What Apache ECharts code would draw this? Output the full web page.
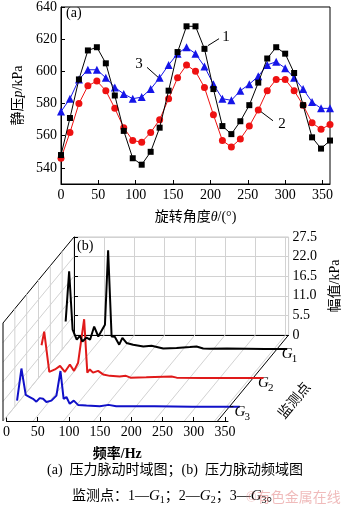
<!DOCTYPE html>
<html><head><meta charset="utf-8">
<script src="https://cdn.jsdelivr.net/npm/echarts@6/dist/echarts.min.js"></script>
<style>html,body{margin:0;padding:0;background:#fff}#c{width:350px;height:509px}</style>
</head><body><div id="c"></div>
<script>
// ---------- (a) time domain ----------
const theta = [0,12,24,36,48,60,72,84,96,108,120,132,144,156,168,180,192,204,216,228,240,252,264,276,288,300,312,324,336,348,360];
const pG1 = [548,571,595,613,615,605,585,563,546,542,550,565,588,612,628,628,614,589,566,561,569,579,593,608,615,611,599,579,559,552,557];
const pG2 = [546,562,580,591,594,588,577,565,557,556,562,570,583,596,604,600,590,573,557,553,558,566,576,588,595,595,588,579,568,564,567];
const pG3 = [575,583,595,601,601,596,590,586,583,584,589,596,604,611,615,611,603,592,583,582,588,592,597,604,606,602,596,589,581,577,577];
const thetaTicks = [0,50,100,150,200,250,300,350];
const pTicks = [540,560,580,600,620,640];
const curveNames = ['1','2','3'];
const leaderLines = [[196.7,616,211.5,620.3],[267.7,574.9,283.7,569.3],[115.1,602.5,129.8,596.4]];
const leaderText = [[220.8,621.6],[295.8,567.3],[104.4,604.4]];

// ---------- (b) frequency domain ----------
const fG1 = [5.5,11,16.5,23,28,32,38.5,44,50.5,57,67.5,72.5,78,83,90,95,101.5,112,128,141,159.5,180.5,201.5,212,222.5,233,260,290,320,355];
const aG1 = [7.8,21.9,5.5,2.7,3.8,2.2,3.3,2.7,6.4,3.6,6.9,27.8,3.6,3.5,1.3,3.2,1.8,1.3,0.8,1.0,0.25,0.4,0.65,0.8,0.25,0.15,0.2,0.15,0.1,0.1];
const fG2 = [4.8,9,17,26,34,41.5,49.5,56,62.5,72,77,81,86,94,102,112.5,128,138,145,170,210,218,260,300,355];
const aG2 = [9.2,13.0,1.7,2.4,3.4,1.7,3.8,2.0,4.3,16.5,1.5,2.4,1.5,2.0,1.0,0.6,0.4,0.6,0.1,0.2,0.4,0.1,0,0,0];
const fG3 = [3.5,10.4,17.2,23.5,28.7,34,39.3,44.5,49.8,57.7,65.6,72,77,81.4,86.6,93,99.7,113,134,148,160,220,280,355];
const aG3 = [1.7,10.7,3.3,2.7,2.2,1.4,2.4,2.2,1.3,1.7,3.1,10.0,2.2,2.7,0.8,1.7,0.5,0.3,0.1,0.5,0.1,0.1,0,0];
const freqTicks = [0,50,100,150,200,250,300,350];
const ampTicks = [0,5.5,11,16.5,22,27.5];
const depthNames = ['1','2','3'];

// ---------- layout ----------
const SERIF = "'Liberation Serif','Noto Sans CJK SC',serif";
const A = {left:61, top:5, width:269, height:179};
const B = {left:74, top:237, width:225, height:98};
const DV = [-71, 86];           // depth vector (back -> front) in px
const FMAX = 355, AMAX = 27.5;
const depthPos = [1/6, 1/2, 5/6];
const colA = ['#000000','#ee1111','#1515e8'];
const colB = ['#000000','#e01a1a','#1010c8'];

const chart = echarts.init(document.getElementById('c'), null, {renderer:'canvas'});

const grids = [
  {left:A.left, top:A.top, width:A.width, height:A.height, show:true, borderColor:'#000', borderWidth:1},
  {left:B.left, top:B.top, width:B.width, height:B.height, show:true, borderColor:'#c8c8c8', borderWidth:1},
];
depthPos.forEach(d => grids.push({left:B.left + d*DV[0], top:B.top + d*DV[1], width:B.width, height:B.height}));
grids.push({left:B.left + DV[0], top:B.top + DV[1], width:B.width, height:B.height});

const hiddenX = gi => ({type:'value', gridIndex:gi, min:0, max:FMAX, show:false});
const hiddenY = gi => ({type:'value', gridIndex:gi, min:0, max:AMAX, show:false});

const xAxes = [
  {type:'value', gridIndex:0, min:0, max:360,
   axisLine:{lineStyle:{color:'#000'}}, axisTick:{inside:true, length:4, customValues:thetaTicks, lineStyle:{color:'#000'}},
   axisLabel:{customValues:thetaTicks, color:'#000', fontFamily:SERIF, fontSize:14, margin:4},
   splitLine:{show:false},
   name:'旋转角度{i|θ}/(°)', nameLocation:'middle', nameGap:26,
   nameTextStyle:{color:'#000', fontFamily:SERIF, fontSize:14, rich:{i:{fontStyle:'italic', fontFamily:SERIF, fontSize:14, color:'#000'}}}},
  {type:'value', gridIndex:1, min:0, max:FMAX, interval:50, position:'top',
   axisLine:{lineStyle:{color:'#000'}}, axisTick:{show:false}, axisLabel:{show:false},
   splitLine:{show:true, lineStyle:{color:'#d2d2d2', width:1}}},
];
const yAxes = [
  {type:'value', gridIndex:0, min:530, max:640,
   axisLine:{lineStyle:{color:'#000'}}, axisTick:{inside:true, length:4, customValues:pTicks, lineStyle:{color:'#000'}},
   axisLabel:{customValues:pTicks, color:'#000', fontFamily:SERIF, fontSize:14, margin:4},
   splitLine:{show:false},
   name:'静压{i|p}/kPa', nameLocation:'middle', nameGap:35, nameRotate:90,
   nameTextStyle:{color:'#000', fontFamily:SERIF, fontSize:14, rich:{i:{fontStyle:'italic', fontFamily:SERIF, fontSize:14, color:'#000'}}}},
  {type:'value', gridIndex:1, min:0, max:AMAX, interval:5.5, position:'right',
   axisLine:{show:true, lineStyle:{color:'#000'}}, axisTick:{show:true, length:4, lineStyle:{color:'#000'}},
   axisLabel:{color:'#000', fontFamily:SERIF, fontSize:14, margin:4, formatter:v => v===0 ? '0' : v.toFixed(1)},
   splitLine:{show:true, lineStyle:{color:'#d2d2d2', width:1}},
   name:'幅值/kPa', nameLocation:'middle', nameGap:37, nameRotate:90,
   nameTextStyle:{color:'#000', fontFamily:SERIF, fontSize:14}},
];
depthPos.forEach((d,i) => { xAxes.push(hiddenX(2+i)); yAxes.push(hiddenY(2+i)); });
xAxes.push({type:'value', gridIndex:5, min:0, max:FMAX,
  axisLine:{lineStyle:{color:'#000'}}, axisTick:{inside:true, length:4, customValues:freqTicks, lineStyle:{color:'#000'}},
  axisLabel:{customValues:freqTicks, color:'#000', fontFamily:SERIF, fontSize:14, margin:4},
  splitLine:{show:false},
  name:'频率/Hz', nameLocation:'middle', nameGap:26,
  nameTextStyle:{color:'#000', fontFamily:SERIF, fontSize:14, fontWeight:'bold'}});
yAxes.push(hiddenY(5));

// ---- time-domain series ----
const symbols = ['rect','circle','triangle'];
const symSizes = [6,7,8];
const pData = [pG1,pG2,pG3];
const series = pData.map((arr,i) => ({
  type:'line', name:curveNames[i], xAxisIndex:0, yAxisIndex:0,
  data: theta.map((t,k)=>[t,arr[k]]),
  symbol:symbols[i], symbolSize:symSizes[i], showSymbol:true,
  itemStyle:{color:colA[i]}, lineStyle:{color:colA[i], width:1}, z:3+(2-i)
}));
series[0].markLine = {
  silent:true, symbol:['none','none'], animation:false,
  lineStyle:{color:'#000', width:1, type:'solid'}, label:{show:false},
  data: leaderLines.map(l => [{coord:[l[0],l[1]]},{coord:[l[2],l[3]]}])
};
series[0].markPoint = {
  silent:true, symbol:'circle', symbolSize:0, animation:false,
  label:{show:true, position:'inside', color:'#000', fontFamily:SERIF, fontSize:15, formatter:'{b}'},
  data: leaderText.map((p,i)=>({name:curveNames[i], coord:[p[0],p[1]]}))
};

// ---- wall / floor lines (depth-shifted through back-wall scale) ----
const wallSegs = [];  // [f1,a1,d1,f2,a2,d2,black]
freqTicks.forEach(f => wallSegs.push([f,0,0,f,0,1,0]));
ampTicks.forEach(a => wallSegs.push([0,a,0,0,a,1,a===AMAX?1:0]));
depthPos.concat([2/6,4/6]).forEach(d => wallSegs.push([0,0,d,0,AMAX,d,0]));
wallSegs.push([0,0,1,0,AMAX,1,1]);
wallSegs.push([FMAX,0,0,FMAX,0,1,1]);
series.push({
  type:'custom', xAxisIndex:1, yAxisIndex:1, z:1, silent:true,
  data: wallSegs,
  renderItem:(params, api) => {
    const s = wallSegs[params.dataIndex];
    const p1 = api.coord([s[0],s[1]]), p2 = api.coord([s[3],s[4]]);
    return {type:'line', shape:{x1:p1[0]+s[2]*DV[0], y1:p1[1]+s[2]*DV[1], x2:p2[0]+s[5]*DV[0], y2:p2[1]+s[5]*DV[1]},
      style:{stroke: s[6] ? '#000' : '#d2d2d2', lineWidth:1}};
  }
});
// depth-axis ticks and labels
series.push({
  type:'custom', xAxisIndex:1, yAxisIndex:1, z:4, silent:true,
  data: depthNames.map((n,i)=>[FMAX,0,depthPos[i]]).concat([[FMAX,0,0.42]]),
  renderItem:(params, api) => {
    const i = params.dataIndex;
    const p = api.coord([FMAX,0]);
    if (i < depthNames.length) {
      const d = depthPos[i];
      const x = p[0]+d*DV[0], y = p[1]+d*DV[1];
      return {type:'group', children:[
        {type:'line', shape:{x1:x, y1:y, x2:x+4, y2:y}, style:{stroke:'#000', lineWidth:1}},
        {type:'text', x:x+5, y:y+5, style:{text:'G', fontFamily:SERIF, fontStyle:'italic', fontSize:15, fill:'#000', textVerticalAlign:'middle'}},
        {type:'text', x:x+15, y:y+10, style:{text:depthNames[i], fontFamily:SERIF, fontSize:11, fill:'#000', textVerticalAlign:'middle'}}
      ]};
    }
    const d = 0.42, L = Math.hypot(DV[0],DV[1]), off = 47;
    const cx = p[0]+d*DV[0] + off*Math.abs(DV[1])/L, cy = p[1]+d*DV[1] + off*Math.abs(DV[0])/L;
    return {type:'text', x:cx, y:cy, rotation:Math.atan2(DV[1], -DV[0]),
      style:{text:'监测点', fontFamily:SERIF, fontSize:14, fill:'#000', textAlign:'center', textVerticalAlign:'middle'}};
  }
});
// spectra
[[fG1,aG1],[fG2,aG2],[fG3,aG3]].forEach((fa,i) => {
  series.push({type:'line', xAxisIndex:2+i, yAxisIndex:2+i, clip:false, symbol:'none', showSymbol:false,
    data: fa[0].map((f,k)=>[f, fa[1][k]]), lineStyle:{color:colB[i], width:2}, z:5-i});
});
// front axis holder (empty)
series.push({type:'line', xAxisIndex:5, yAxisIndex:5, data:[]});

chart.setOption({
  animation:false,
  backgroundColor:'#fff',
  grid: grids, xAxis: xAxes, yAxis: yAxes, series: series,
  graphic:[
    {type:'text', left:66, top:6, style:{text:'(a)', fontFamily:SERIF, fontSize:14, fill:'#000'}},
    {type:'text', left:77, top:239, style:{text:'(b)', fontFamily:SERIF, fontSize:14, fill:'#000'}},
    {type:'text', left:'center', top:463, style:{text:'(a)  压力脉动时域图；(b)  压力脉动频域图', fontFamily:SERIF, fontSize:14, fill:'#000'}},
    {type:'text', left:72, top:489, style:{
      text:'监测点：1—{g|G}{s|1}；2—{g|G}{s|2}；3—{g|G}{s|3}。', fontFamily:SERIF, fontSize:14, fill:'#000',
      rich:{g:{fontStyle:'italic', fontFamily:SERIF, fontSize:15, fill:'#000'}, s:{fontFamily:SERIF, fontSize:10, fill:'#000', padding:[8,0,0,0]}}}},
    {type:'text', left:246, top:491, style:{text:'©有色金属在线', fontFamily:SERIF, fontSize:14, fill:'rgba(225,120,120,0.5)'}}
  ]
});
</script></body></html>
